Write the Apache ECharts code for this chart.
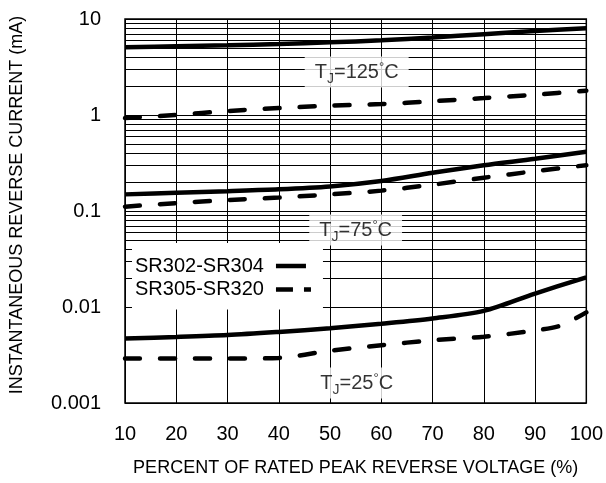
<!DOCTYPE html>
<html><head><meta charset="utf-8">
<script src="https://cdn.jsdelivr.net/npm/echarts@6/dist/echarts.min.js"></script>
<style>html,body{margin:0;padding:0;background:#fff}#c{width:606px;height:483px}</style>
</head><body><div id="c"></div>
<script>
// ---- data ----
const voltage = [10, 20, 30, 40, 50, 60, 70, 80, 90, 100];
const voltageB = [10, 20, 30, 40, 50, 60, 70, 80, 90, 95, 100];
const sr302_125 = [5.07, 5.19, 5.32, 5.49, 5.71, 6.0, 6.42, 6.95, 7.5, 8.0];
const sr305_125 = [0.93, 1.0, 1.1, 1.18, 1.25, 1.3, 1.39, 1.5, 1.63, 1.79];
const sr302_75 = [0.149, 0.155, 0.161, 0.168, 0.18, 0.205, 0.25, 0.30, 0.35, 0.415];
const sr305_75 = [0.111, 0.121, 0.13, 0.138, 0.149, 0.163, 0.188, 0.222, 0.26, 0.30];
const sr302_25 = [0.0047, 0.00487, 0.0051, 0.0055, 0.006, 0.0067, 0.0076, 0.0091, 0.0138, 0.0204];
const sr305_25 = [0.0029, 0.0029, 0.0029, 0.00295, 0.0035, 0.004, 0.0045, 0.0049, 0.0057, 0.0064, 0.0088];
const seriesNames = ['SR302-SR304', 'SR305-SR320'];
const xTicks = [10, 20, 30, 40, 50, 60, 70, 80, 90, 100];
const yTickLabels = ['0.001', '0.01', '0.1', '1', '10'];
const decades = [0.001, 0.01, 0.1, 1];
const minorMultipliers = [2, 3, 4, 5, 6, 7, 8, 9];
const tempLabels = ['125', '75', '25'];
const tempLabelX = [55.2, 55.0, 55.2];
const tempLabelY = [2.8, 0.0634, 0.00162];

const FONT = 'Liberation Sans, Arial, sans-serif';
const minorGrid = [];
decades.forEach(d => minorMultipliers.forEach(m => minorGrid.push(+(d * m).toPrecision(3))));
const pairs = (xs, ys) => xs.map((x, i) => [x, ys[i]]);

const solidStyle = { color: '#000', width: 4.5, type: 'solid' };
const dashStyle = { color: '#000', width: 4.5, type: [15, 20], cap: 'round' };

function curve(name, xs, ys, style) {
  return {
    type: 'line', name: name, data: pairs(xs, ys), smooth: 0.3,
    symbol: 'none', showSymbol: false, lineStyle: style, itemStyle: { color: '#000' },
    silent: true, z: 3
  };
}

const series = [
  curve(seriesNames[0], voltage, sr302_125, solidStyle),
  curve(seriesNames[1], voltage, sr305_125, dashStyle),
  curve(seriesNames[0], voltage, sr302_75, solidStyle),
  curve(seriesNames[1], voltage, sr305_75, dashStyle),
  curve(seriesNames[0], voltage, sr302_25, solidStyle),
  curve(seriesNames[1], voltageB, sr305_25, dashStyle)
];
series[0].markLine = {
  silent: true, symbol: ['none', 'none'], label: { show: false },
  lineStyle: { color: '#000', width: 1, type: 'solid' },
  animation: false,
  data: minorGrid.map(v => ({ yAxis: v }))
};
series.push({
  type: 'scatter', name: 'labels', symbolSize: 0, z: 10, silent: true,
  data: tempLabels.map((t, i) => ({ value: [tempLabelX[i], tempLabelY[i]], t: t })),
  label: {
    show: true, position: 'inside', backgroundColor: '#fff', padding: [4, 10, 3, 10],
    formatter: p => '{t|T}{s|J}{t|=' + p.data.t + '}{d|°}{t|C}',
    rich: {
      t: { fontSize: 20, fontFamily: FONT, color: '#000', lineHeight: 24, verticalAlign: 'middle' },
      s: { fontSize: 14, fontFamily: FONT, color: '#000', padding: [13, 0, 0, 0], lineHeight: 14 },
      d: { fontSize: 13, fontFamily: FONT, color: '#000', padding: [0, 0, 10, 0], lineHeight: 13 }
    }
  }
});

const chart = echarts.init(document.getElementById('c'), null, { renderer: 'canvas' });
chart.setOption({
  animation: false,
  backgroundColor: '#fff',
  textStyle: { fontFamily: FONT },
  grid: { left: 125, right: 19, top: 19, bottom: 80, show: true, borderColor: '#000', borderWidth: 1.5, backgroundColor: 'transparent' },
  legend: {
    left: 132, top: 243, orient: 'vertical', align: 'right',
    backgroundColor: '#fff', padding: [12, 12, 9, 3], itemGap: 1.5,
    itemWidth: 35, itemHeight: 4.5, z: 6, symbolKeepAspect: false,
    textStyle: { fontSize: 20, fontFamily: FONT, color: '#000', lineHeight: 22, padding: [0, 7, 0, 0] },
    data: [
      { name: seriesNames[0], icon: 'path://M0,0H30V4.5H0Z M34.9,2H35V2.1H34.9Z', itemStyle: { color: '#000' } },
      { name: seriesNames[1], icon: 'path://M0,0H17V4.5H0Z M28,0H35V4.5H28Z', itemStyle: { color: '#000' } }
    ],
    selectedMode: false
  },
  xAxis: {
    type: 'value', min: 10, max: 100, interval: 10,
    name: 'PERCENT OF RATED PEAK REVERSE VOLTAGE (%)', nameLocation: 'middle', nameGap: 56,
    nameTextStyle: { fontSize: 18, fontFamily: FONT, color: '#000' },
    axisLine: { show: false }, axisTick: { show: false },
    axisLabel: { fontSize: 20, fontFamily: FONT, color: '#000', margin: 21,
      formatter: v => xTicks.indexOf(v) >= 0 ? String(v) : '' },
    splitLine: { show: true, lineStyle: { color: '#000', width: 1 } }
  },
  yAxis: {
    type: 'log', logBase: 10, min: 0.001, max: 10,
    name: 'INSTANTANEOUS REVERSE CURRENT (mA)', nameLocation: 'middle', nameGap: 99,
    nameTextStyle: { fontSize: 18, fontFamily: FONT, color: '#000', padding: [0, 0, 0, 12] },
    axisLine: { show: false }, axisTick: { show: false },
    axisLabel: { fontSize: 20, fontFamily: FONT, color: '#000', margin: 24,
      formatter: v => yTickLabels[Math.round(Math.log10(v)) + 3] },
    splitLine: { show: true, lineStyle: { color: '#000', width: 1 } }
  },
  series: series
});
</script>
</body></html>
